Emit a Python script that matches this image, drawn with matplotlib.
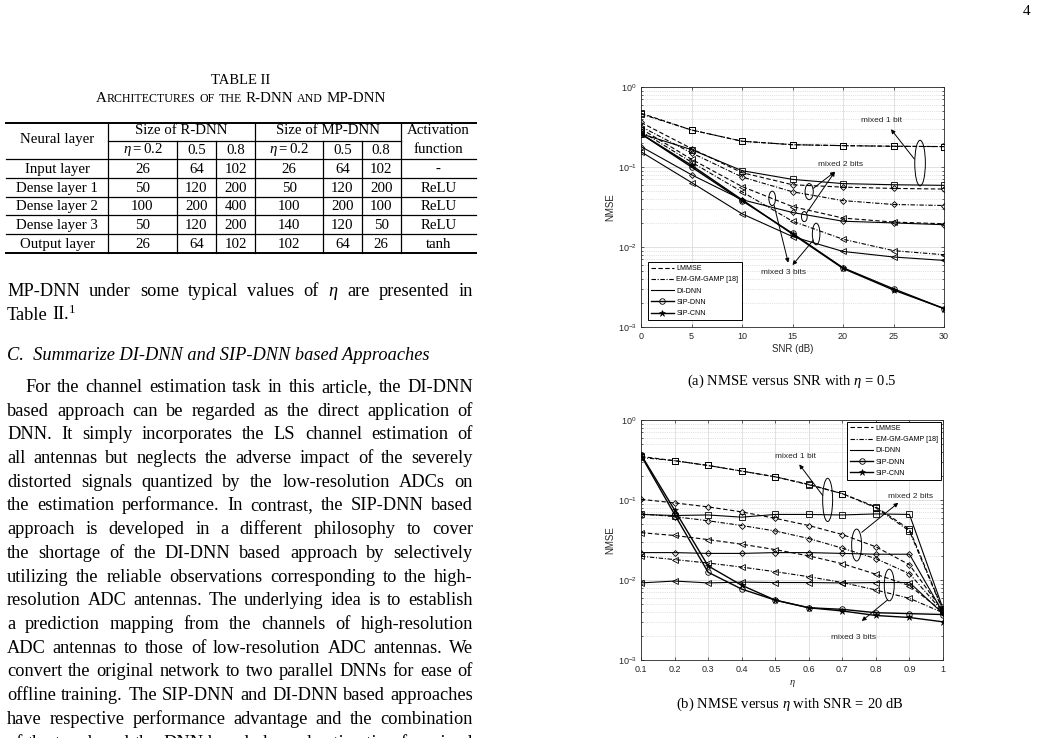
import matplotlib
matplotlib.use("Agg")
import matplotlib.pyplot as plt
from matplotlib.lines import Line2D
from matplotlib.patches import Ellipse
from matplotlib.ticker import LogLocator, NullFormatter

W, H = 1041, 738

# ---------------- data: (a) NMSE vs SNR, eta = 0.5
snr = [0, 5, 10, 15, 20, 25, 30]
a_lmmse_1 = [0.47, 0.29, 0.21, 0.19, 0.185, 0.182, 0.18]
a_gamp_1 = [0.46, 0.29, 0.21, 0.19, 0.185, 0.181, 0.18]
a_didnn_1 = [0.26, 0.165, 0.09, 0.07, 0.062, 0.06, 0.059]
a_lmmse_2 = [0.36, 0.17, 0.085, 0.06, 0.056, 0.054, 0.053]
a_gamp_2 = [0.32, 0.15, 0.075, 0.049, 0.038, 0.034, 0.033]
a_didnn_2 = [0.18, 0.08, 0.039, 0.027, 0.021, 0.02, 0.019]
a_lmmse_3 = [0.30, 0.125, 0.057, 0.032, 0.023, 0.0205, 0.0195]
a_gamp_3 = [0.28, 0.115, 0.049, 0.021, 0.0125, 0.009, 0.008]
a_didnn_3 = [0.155, 0.064, 0.026, 0.0135, 0.0088, 0.0075, 0.0068]
a_sipdnn = [0.26, 0.10, 0.038, 0.0148, 0.0055, 0.003, 0.0017]
a_sipcnn = [0.26, 0.105, 0.039, 0.0145, 0.0054, 0.0029, 0.0017]

# ---------------- data: (b) NMSE vs eta, SNR = 20 dB
eta = [0.1, 0.2, 0.3, 0.4, 0.5, 0.6, 0.7, 0.8, 0.9, 1.0]
b_lmmse_1 = [0.35, 0.31, 0.27, 0.23, 0.195, 0.157, 0.12, 0.082, 0.043, 0.0042]
b_gamp_1 = [0.34, 0.31, 0.27, 0.23, 0.195, 0.155, 0.12, 0.08, 0.041, 0.0041]
b_didnn_1 = [0.066, 0.064, 0.065, 0.061, 0.066, 0.066, 0.065, 0.067, 0.066, 0.0044]
b_lmmse_2 = [0.102, 0.092, 0.082, 0.071, 0.059, 0.048, 0.037, 0.026, 0.0155, 0.0041]
b_gamp_2 = [0.067, 0.062, 0.055, 0.048, 0.041, 0.033, 0.025, 0.0185, 0.012, 0.004]
b_didnn_2 = [0.022, 0.022, 0.0215, 0.0215, 0.022, 0.022, 0.0215, 0.021, 0.021, 0.0039]
b_lmmse_3 = [0.039, 0.036, 0.032, 0.028, 0.024, 0.02, 0.016, 0.0118, 0.0085, 0.004]
b_gamp_3 = [0.0198, 0.018, 0.0163, 0.0145, 0.0127, 0.011, 0.0093, 0.0075, 0.0059, 0.0039]
b_didnn_3 = [0.0092, 0.0097, 0.0092, 0.0094, 0.0093, 0.0093, 0.0092, 0.0093, 0.0093, 0.0038]
b_sipdnn = [0.36, 0.066, 0.0125, 0.0077, 0.0056, 0.0045, 0.0043, 0.0039, 0.0038, 0.0037]
b_sipcnn = [0.37, 0.075, 0.015, 0.0086, 0.0056, 0.0045, 0.0041, 0.0036, 0.0034, 0.0030]

legend_labels = ["LMMSE", "EM-GM-GAMP [18]", "DI-DNN", "SIP-DNN", "SIP-CNN"]

# ---------------- data: Table II
tab_layers = ["Input layer", "Dense layer 1", "Dense layer 2", "Dense layer 3", "Output layer"]
tab_rdnn = [[26, 64, 102], [50, 120, 200], [100, 200, 400], [50, 120, 200], [26, 64, 102]]
tab_mpdnn = [[26, 64, 102], [50, 120, 200], [100, 200, 100], [140, 120, 50], [102, 64, 26]]
tab_act = ["-", "ReLU", "ReLU", "ReLU", "tanh"]
tab_eta = [r"$\eta=0.2$", "0.5", "0.8"]

body_lines = [
    "For the channel estimation task in this article, the DI-DNN",
    "based approach can be regarded as the direct application of",
    "DNN. It simply incorporates the LS channel estimation of",
    "all antennas but neglects the adverse impact of the severely",
    "distorted signals quantized by the low-resolution ADCs on",
    "the estimation performance. In contrast, the SIP-DNN based",
    "approach is developed in a different philosophy to cover",
    "the shortage of the DI-DNN based approach by selectively",
    "utilizing the reliable observations corresponding to the high-",
    "resolution ADC antennas. The underlying idea is to establish",
    "a prediction mapping from the channels of high-resolution",
    "ADC antennas to those of low-resolution ADC antennas. We",
    "convert the original network to two parallel DNNs for ease of",
    "offline training. The SIP-DNN and DI-DNN based approaches",
    "have respective performance advantage and the combination",
    "of the two based the DNN based channel estimation for mixed",
]

plt.rcParams.update({
    "font.family": "Liberation Sans",
    "mathtext.fontset": "custom",
    "mathtext.rm": "Liberation Serif",
    "mathtext.it": "Liberation Serif:italic",
    "mathtext.bf": "Liberation Serif:bold",
})

fig = plt.figure(figsize=(W / 100, H / 100), dpi=100)
fig.patch.set_facecolor("white")
rend = fig.canvas.get_renderer()

# page overlay in pixel coordinates
pg = fig.add_axes([0, 0, 1, 1])
pg.set_xlim(0, W); pg.set_ylim(H, 0); pg.axis("off")
SERIF = dict(family="Liberation Serif", color="black")


def text_line(x0, x1, y, line, size, justify=True, **kw):
    ts = [pg.text(x0, y, w, fontsize=size, va="baseline", **SERIF, **kw) for w in line.split()]
    ws = [t.get_window_extent(rend).width for t in ts]
    gap = (x1 - x0 - sum(ws)) / (len(ts) - 1) if justify and len(ts) > 1 else size * 100 / 72 * 0.25
    x = x0
    for t, w in zip(ts, ws):
        t.set_x(x)
        x += w + gap


def small_caps(xc, y, parts, big, small):
    ts, ws = [], []
    for s, is_big, _ in parts:
        t = pg.text(0, y, s, fontsize=big if is_big else small, va="baseline", **SERIF)
        ts.append(t); ws.append(t.get_window_extent(rend).width)
    sp = big * 100 / 72 * 0.25
    total = sum(ws) + sp * sum(p[2] for p in parts)
    x = xc - total / 2
    for t, w, p in zip(ts, ws, parts):
        t.set_x(x)
        x += w + sp * p[2]


# ---------------- page header and table
pg.text(1027, 15, "4", fontsize=11, ha="center", va="baseline", **SERIF)
pg.text(241, 84, "TABLE II", fontsize=10.5, ha="center", va="baseline", **SERIF)
small_caps(241, 102.5, [("A", 1, 0), ("RCHITECTURES", 0, 1), ("OF", 0, 1), ("THE", 0, 1),
                        ("R-DNN", 1, 1), ("AND", 0, 1), ("MP-DNN", 1, 0)], 10.8, 8.6)

cx = [6, 108.3, 176.7, 216, 255, 323.3, 361.7, 400.7, 476]
ry = [122.7, 141, 159.3, 178.3, 196.7, 215, 234, 252.7]
TS = 10.7
for y in (ry[0], ry[-1]):
    pg.plot([cx[0], cx[-1]], [y, y], color="k", lw=1.4)
for y in ry[2:-1]:
    pg.plot([cx[0], cx[-1]], [y, y], color="k", lw=0.9)
pg.plot([cx[1], cx[7]], [ry[1], ry[1]], color="k", lw=0.9)
for i, x in enumerate(cx[1:-1], start=1):
    top = ry[0] if i in (1, 4, 7) else ry[1]
    pg.plot([x, x], [top, ry[-1]], color="k", lw=0.9)

mid = lambda a, b: (a + b) / 2
pg.text(mid(cx[0], cx[1]), 143.5, "Neural layer", fontsize=TS, ha="center", va="baseline", **SERIF)
pg.text(mid(cx[1], cx[4]), 134.5, "Size of R-DNN", fontsize=TS, ha="center", va="baseline", **SERIF)
pg.text(mid(cx[4], cx[7]), 134.5, "Size of MP-DNN", fontsize=TS, ha="center", va="baseline", **SERIF)
pg.text(mid(cx[7], cx[8]), 134.5, "Activation", fontsize=TS, ha="center", va="baseline", **SERIF)
pg.text(mid(cx[7], cx[8]), 153, "function", fontsize=TS, ha="center", va="baseline", **SERIF)
for j, s in enumerate(tab_eta):
    pg.text(mid(cx[1 + j], cx[2 + j]), 153.5, s, fontsize=TS, ha="center", va="baseline", **SERIF)
    pg.text(mid(cx[4 + j], cx[5 + j]), 153.5, s, fontsize=TS, ha="center", va="baseline", **SERIF)
for i, name in enumerate(tab_layers):
    yb = mid(ry[i + 2], ry[i + 3]) + 4.5
    cells = [name] + tab_rdnn[i] + tab_mpdnn[i] + [tab_act[i]]
    for j, c in enumerate(cells):
        pg.text(mid(cx[j], cx[j + 1]), yb, str(c), fontsize=TS, ha="center", va="baseline", **SERIF)

# ---------------- body text
BS = 13.2
text_line(7, 473, 296, r"MP-DNN under some typical values of $\eta$ are presented in", BS)
text_line(7, 473, 319.5, r"Table II.$^{1}$", BS, justify=False)
pg.text(7, 360.5, "C.  Summarize DI-DNN and SIP-DNN based Approaches", fontsize=BS,
        style="italic", va="baseline", **SERIF)
for k, line in enumerate(body_lines):
    text_line(25 if k == 0 else 7, 473, 392 + 23.7 * k, line, BS)

# captions
pg.text(792, 385, r"(a) NMSE versus SNR with $\eta$ = 0.5", fontsize=10.5, ha="center",
        va="baseline", **SERIF)
pg.text(790, 708, r"(b) NMSE versus $\eta$ with SNR$\,=\,$20 dB", fontsize=10.5, ha="center",
        va="baseline", **SERIF)

# ---------------- charts
DASH = (0, (4, 2.2))
DASHDOT = (0, (4, 1.5, 1, 1.5))
LS = {"lmmse": DASH, "gamp": DASHDOT, "didnn": "-"}
MK = {1: ("s", 3.8), 2: ("D", 3.0), 3: ("<", 4.0)}


def nmse_panel(rect, x, groups, sip_dnn, sip_cnn):
    ax = fig.add_axes(rect)
    for vals, method, bits in groups:
        m, ms = MK[bits]
        ax.plot(x, vals, color="k", lw=0.8, ls=LS[method], marker=m, ms=ms,
                mfc="none", mew=0.6, zorder=3)
    ax.plot(x, sip_dnn, color="k", lw=1.0, marker="o", ms=4, mfc="none", mew=0.6, zorder=4)
    ax.plot(x, sip_cnn, color="k", lw=1.0, marker="*", ms=4.5, mew=0.4, zorder=4)
    ax.set_yscale("log")
    ax.set_ylim(1e-3, 1)
    ax.yaxis.set_minor_locator(LogLocator(base=10, subs=range(2, 10)))
    ax.yaxis.set_minor_formatter(NullFormatter())
    ax.grid(which="major", color="#dcdcdc", lw=0.6, ls="-")
    ax.grid(which="minor", axis="y", color="#c8c8c8", lw=0.5, ls=":")
    ax.set_axisbelow(True)
    ax.tick_params(which="both", direction="in", top=True, right=True, width=0.5,
                   labelsize=6.5, colors="#262626")
    ax.tick_params(axis="x", pad=3.5)
    ax.tick_params(axis="y", pad=3)
    ax.tick_params(which="major", length=2.5)
    ax.tick_params(which="minor", length=1.5)
    for s in ax.spines.values():
        s.set_linewidth(0.6); s.set_color("#262626")
    ax.set_ylabel("NMSE", fontsize=7, labelpad=2, color="#262626")
    return ax


def decorate(ax, ellipses, arrows, labels):
    for x0, y0, w, h in ellipses:
        ax.add_patch(Ellipse((x0, y0), w, h, transform=ax.transAxes, fill=False,
                             lw=0.7, ec="k", zorder=6))
    for tail, tip in arrows:
        ax.annotate("", xy=tip, xytext=tail, xycoords="axes fraction",
                    arrowprops=dict(arrowstyle="-|>", color="k", lw=0.7,
                                    mutation_scale=6, shrinkA=0, shrinkB=0), zorder=6)
    for x0, y0, s in labels:
        ax.text(x0, y0, s, transform=ax.transAxes, fontsize=6, ha="center", va="center",
                color="#262626", zorder=7)


def legend_handles():
    return [Line2D([], [], color="k", lw=0.8, ls=DASH),
            Line2D([], [], color="k", lw=0.8, ls=DASHDOT),
            Line2D([], [], color="k", lw=0.8),
            Line2D([], [], color="k", lw=1.0, marker="o", ms=4, mfc="none", mew=0.6),
            Line2D([], [], color="k", lw=1.0, marker="*", ms=4.5, mew=0.4)]


leg_kw = dict(fontsize=5.1, frameon=True, fancybox=False, framealpha=1, edgecolor="k",
              handlelength=3.2, handletextpad=0.4, labelspacing=0.6, borderpad=0.45,
              borderaxespad=0)

# (a)
ax1 = nmse_panel([641 / W, 1 - 327 / H, 303 / W, 240 / H], snr,
                 [(a_lmmse_1, "lmmse", 1), (a_gamp_1, "gamp", 1), (a_didnn_1, "didnn", 1),
                  (a_lmmse_2, "lmmse", 2), (a_gamp_2, "gamp", 2), (a_didnn_2, "didnn", 2),
                  (a_lmmse_3, "lmmse", 3), (a_gamp_3, "gamp", 3), (a_didnn_3, "didnn", 3)],
                 a_sipdnn, a_sipcnn)
ax1.set_xlim(0, 30)
ax1.set_xticks(snr)
ax1.set_xlabel("SNR (dB)", fontsize=7, labelpad=2.5, color="#262626")
leg = ax1.legend(legend_handles(), legend_labels, loc="lower left", bbox_to_anchor=(0.022, 0.028), **leg_kw)
leg.get_frame().set_linewidth(0.7)
decorate(ax1,
         [(0.921, 0.683, 0.035, 0.19), (0.555, 0.564, 0.027, 0.067), (0.539, 0.46, 0.019, 0.042),
          (0.433, 0.536, 0.022, 0.06), (0.578, 0.3875, 0.025, 0.09)],
         [((0.902, 0.70), (0.825, 0.824)), ((0.569, 0.578), (0.64, 0.647)),
          ((0.547, 0.476), (0.64, 0.647)), ((0.439, 0.508), (0.486, 0.268)),
          ((0.569, 0.3625), (0.50, 0.258))],
         [(0.794, 0.8625, "mixed 1 bit"), (0.657, 0.679, "mixed 2 bits"), (0.47, 0.226, "mixed 3 bits")])

# (b)
ax2 = nmse_panel([641 / W, 1 - 660 / H, 302 / W, 240 / H], eta,
                 [(b_lmmse_1, "lmmse", 1), (b_gamp_1, "gamp", 1), (b_didnn_1, "didnn", 1),
                  (b_lmmse_2, "lmmse", 2), (b_gamp_2, "gamp", 2), (b_didnn_2, "didnn", 2),
                  (b_lmmse_3, "lmmse", 3), (b_gamp_3, "gamp", 3), (b_didnn_3, "didnn", 3)],
                 b_sipdnn, b_sipcnn)
ax2.set_xlim(0.1, 1.0)
ax2.set_xticks(eta)
ax2.set_xticklabels(["0.1", "0.2", "0.3", "0.4", "0.5", "0.6", "0.7", "0.8", "0.9", "1"])
ax2.set_xlabel(r"$\eta$", fontsize=7.5, labelpad=3, color="#262626")
leg = ax2.legend(legend_handles(), legend_labels, loc="upper right", bbox_to_anchor=(0.993, 0.993), **leg_kw)
leg.get_frame().set_linewidth(0.7)
decorate(ax2,
         [(0.618, 0.667, 0.033, 0.18), (0.714, 0.479, 0.033, 0.133), (0.822, 0.3125, 0.033, 0.132)],
         [((0.602, 0.685), (0.524, 0.815)), ((0.731, 0.532), (0.852, 0.655)),
          ((0.816, 0.25), (0.731, 0.1625))],
         [(0.513, 0.847, "mixed 1 bit"), (0.892, 0.68, "mixed 2 bits"), (0.702, 0.095, "mixed 3 bits")])

fig.savefig("out.png", dpi=100, facecolor="white")
